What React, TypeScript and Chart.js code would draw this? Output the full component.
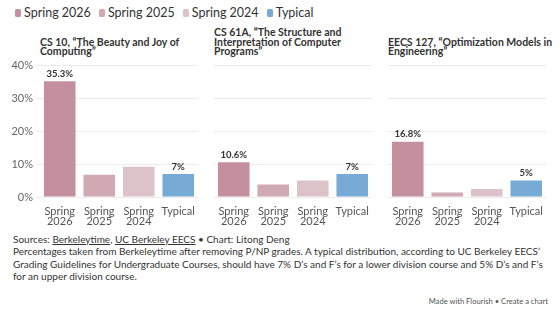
import React, { useEffect, useRef } from "react";
import { Chart, registerables } from "chart.js";

Chart.register(...registerables);

// Share of D and F grades per course, by term, against the typical guideline
const categories: (string | string[])[] = [["Spring", "2026"], ["Spring", "2025"], ["Spring", "2024"], "Typical"];
const seriesNames = ["Spring 2026", "Spring 2025", "Spring 2024", "Typical"];
const seriesColors = ["#c4909f", "#d1a9b2", "#dcc3c9", "#78aad6"];
const yTickValues = [0, 10, 20, 30, 40];

const cs10Title = "CS 10, \u201CThe Beauty and Joy of Computing\u201D";
const cs61aTitle = "CS 61A, \u201CThe Structure and Interpretation of Computer Programs\u201D";
const eecs127Title = "EECS 127, \u201COptimization Models in Engineering\u201D";

const cs10Values = [35.3, 6.8, 9.2, 7];
const cs61aValues = [10.6, 3.8, 5.0, 7];
const eecs127Values = [16.8, 1.4, 2.4, 5];

// bars that carry a value label
const labeledBars = [0, 3];

const FONT = "Lato, 'Noto Sans', sans-serif";

const valueLabelPlugin = {
  id: "valueLabels",
  afterDatasetsDraw(chart: any) {
    const { ctx } = chart;
    const meta = chart.getDatasetMeta(0);
    const data = chart.data.datasets[0].data as number[];
    ctx.save();
    ctx.font = `bold 9.5px ${FONT}`;
    ctx.fillStyle = "#333333";
    ctx.textAlign = "center";
    ctx.textBaseline = "alphabetic";
    labeledBars.forEach((i) => {
      const el = meta.data[i];
      if (!el) return;
      ctx.fillText(`${data[i]}%`, el.x, el.y - 4.5);
    });
    ctx.restore();
  },
};

type PanelProps = {
  title: string;
  values: number[];
  left: number;
  showAxis: boolean;
  titleWidth: number;
};

function Panel({ title, values, left, showAxis, titleWidth }: PanelProps) {
  const ref = useRef<HTMLCanvasElement>(null);
  const axisW = showAxis ? 40 : 0;
  const plotW = 158;

  useEffect(() => {
    if (!ref.current) return;
    const chart = new Chart(ref.current, {
      type: "bar",
      data: {
        labels: categories,
        datasets: [
          {
            data: values,
            backgroundColor: seriesColors,
            borderWidth: 0,
            barPercentage: 0.8,
            categoryPercentage: 1,
          },
        ],
      },
      options: {
        animation: false,
        responsive: false,
        maintainAspectRatio: false,
        layout: { padding: { top: 9.7, right: 0, left: 0, bottom: 0 } },
        plugins: { legend: { display: false }, tooltip: { enabled: false } },
        scales: {
          x: {
            grid: { display: false },
            border: { display: false },
            ticks: {
              color: "#555555",
              padding: 2,
              font: { family: FONT, size: 11, lineHeight: "9.5px" },
              maxRotation: 0,
              autoSkip: false,
            },
            afterFit: (s: any) => {
              s.height = 29;
            },
          },
          y: {
            min: 0,
            max: 40,
            afterBuildTicks: (s: any) => {
              s.ticks = yTickValues.map((v) => ({ value: v }));
            },
            grid: {
              color: "#ececec",
              lineWidth: 1,
              drawTicks: showAxis,
              tickLength: 4,
            },
            border: { display: false },
            ticks: {
              display: showAxis,
              color: "#666666",
              padding: 3,
              font: { family: FONT, size: 11 },
              callback: (v: any) => `${v}%`,
            },
            afterFit: (s: any) => {
              s.width = axisW;
            },
          },
        },
      },
      plugins: [valueLabelPlugin],
    });
    return () => chart.destroy();
  }, []);

  return (
    <>
      <div
        style={{
          position: "absolute",
          left: left,
          bottom: 314 - 56,
          width: titleWidth,
          fontFamily: FONT,
          fontWeight: 700,
          fontSize: 10.5,
          lineHeight: "9.2px",
          color: "#333333",
        }}
      >
        {title}
      </div>
      <canvas
        ref={ref}
        width={axisW + plotW}
        height={170}
        style={{ position: "absolute", left: left - axisW, top: 56, width: axisW + plotW, height: 170 }}
      />
    </>
  );
}

export default function App() {
  return (
    <div
      style={{
        position: "absolute",
        left: 0,
        top: 0,
        width: 560,
        height: 314,
        background: "#ffffff",
        overflow: "hidden",
        fontFamily: FONT,
      }}
    >
      <div
        style={{
          position: "absolute",
          left: 15,
          top: 5,
          display: "flex",
          alignItems: "center",
          gap: 8,
          fontSize: 12.5,
          color: "#333333",
          whiteSpace: "nowrap",
        }}
      >
        {seriesNames.map((name, i) => (
          <span key={name} style={{ display: "flex", alignItems: "center" }}>
            <span
              style={{
                display: "inline-block",
                width: 6,
                height: 8,
                borderRadius: 1.5,
                background: seriesColors[i],
                marginRight: 3,
              }}
            />
            {name}
          </span>
        ))}
      </div>

      <Panel title={cs10Title} values={cs10Values} left={40} showAxis={true} titleWidth={150} />
      <Panel title={cs61aTitle} values={cs61aValues} left={214} showAxis={false} titleWidth={158} />
      <Panel title={eecs127Title} values={eecs127Values} left={388} showAxis={false} titleWidth={166} />

      <div
        style={{
          position: "absolute",
          left: 13,
          top: 233,
          fontSize: 10,
          lineHeight: "12.3px",
          color: "#333333",
          whiteSpace: "nowrap",
        }}
      >
        <div>
          Sources: <span style={{ textDecoration: "underline" }}>Berkeleytime</span>,{" "}
          <span style={{ textDecoration: "underline" }}>UC Berkeley EECS</span> {"\u2022"} Chart: Litong Deng
        </div>
        <div>
          Percentages taken from Berkeleytime after removing P/NP grades. A typical distribution, according to UC
          Berkeley EECS{"\u2019"}
        </div>
        <div>
          Grading Guidelines for Undergraduate Courses, should have 7% D{"\u2019"}s and F{"\u2019"}s for a lower
          division course and 5% D{"\u2019"}s and F{"\u2019"}s
        </div>
        <div>for an upper division course.</div>
      </div>

      <div
        style={{
          position: "absolute",
          right: 12,
          top: 296,
          fontSize: 7.6,
          color: "#555555",
          whiteSpace: "nowrap",
        }}
      >
        Made with Flourish {"\u2022"} Create a chart
      </div>
    </div>
  );
}
